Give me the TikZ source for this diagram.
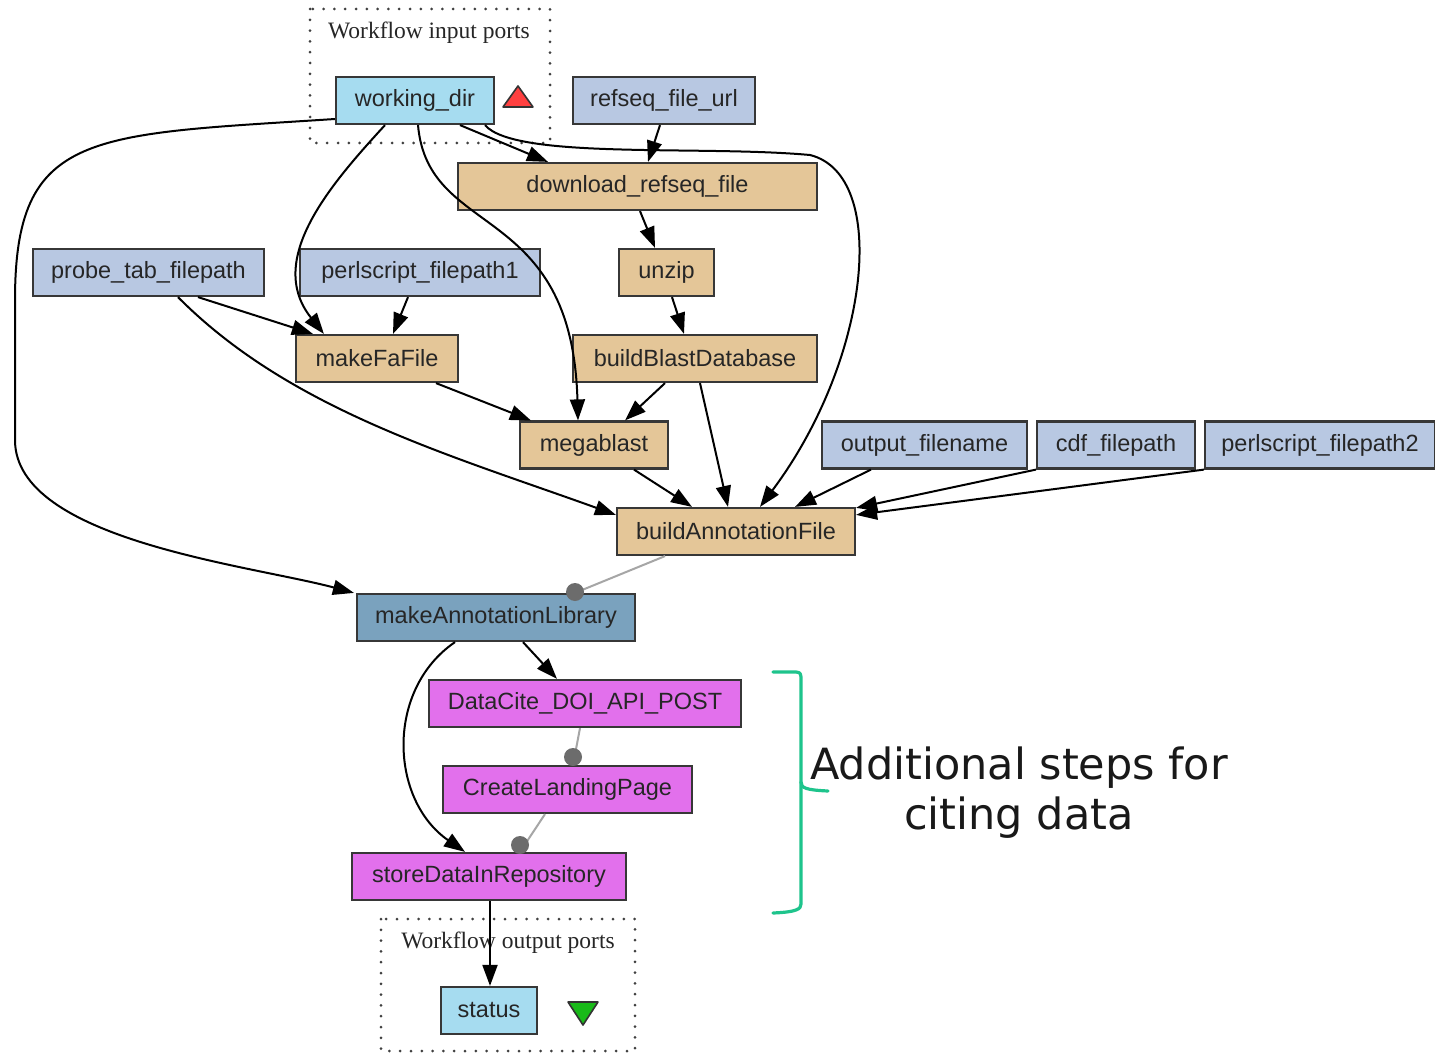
\documentclass[tikz,border=0pt]{standalone}
\usepackage{fontspec}
\setmainfont{Liberation Sans}
\newfontfamily\serifport{Liberation Serif}
\newfontfamily\notefont{DejaVu Sans}
\usetikzlibrary{arrows.meta}
\definecolor{portblue}{RGB}{184,200,226}
\definecolor{portcyan}{RGB}{166,220,240}
\definecolor{proctan}{RGB}{228,198,152}
\definecolor{libblue}{RGB}{122,162,190}
\definecolor{citepink}{RGB}{226,112,236}
\definecolor{boxedge}{RGB}{55,55,55}
\definecolor{bracketgreen}{RGB}{30,196,140}
\tikzset{
  wfbox/.style={draw=boxedge, line width=2.2pt, minimum height=47pt, inner sep=0pt,
    font=\fontsize{23.5}{26}\selectfont, text=black!85},
  inport/.style={wfbox, fill=portblue},
  topport/.style={wfbox, fill=portcyan},
  proc/.style={wfbox, fill=proctan},
  libproc/.style={wfbox, fill=libblue},
  citeproc/.style={wfbox, fill=citepink},
  flow/.style={line width=2pt, draw=black, -{Triangle[length=21pt,width=15pt]}},
  ctrl/.style={line width=2pt, draw=gray!70},
  ctrldot/.style={circle, fill=gray!85!black, minimum size=18pt, inner sep=0pt},
  portframe/.style={draw=black!75, line width=3pt, line cap=round, dash pattern=on 0pt off 10.8pt},
  portlabel/.style={font=\serifport\fontsize{23.5}{26}\selectfont, text=black!85},
}
\begin{document}
\begin{tikzpicture}[x=1pt,y=-1pt]
\useasboundingbox (0,0) rectangle (1435,1054);
\fill[white] (0,0) rectangle (1435,1054);

% port frames
\draw[portframe] (310,9) rectangle (550,143);
\node[portlabel] (inlabel) at (429,33) {Workflow input ports};
\draw[portframe] (381,919) rectangle (635,1051);
\node[portlabel] (outlabel) at (508,943) {Workflow output ports};

% nodes
\node[topport, minimum width=158pt] (wd) at (415,100.5) {working\_dir};
\node[inport, minimum width=182pt] (rsu) at (664,100.5) {refseq\_file\_url};
\node[proc, minimum width=359pt] (dl) at (637.5,186.5) {download\_refseq\_file};
\node[inport, minimum width=231pt] (ptf) at (148.5,272.5) {probe\_tab\_filepath};
\node[inport, minimum width=240pt] (ps1) at (420,272.5) {perlscript\_filepath1};
\node[proc, minimum width=95pt] (unz) at (666.5,272.5) {unzip};
\node[proc, minimum width=162pt] (mfa) at (377,358.5) {makeFaFile};
\node[proc, minimum width=244pt] (bbd) at (695,358.5) {buildBlastDatabase};
\node[proc, minimum width=148pt] (mb) at (594,445) {megablast};
\node[inport, minimum width=205pt] (ofn) at (924.5,445) {output\_filename};
\node[inport, minimum width=158pt] (cdf) at (1116,445) {cdf\_filepath};
\node[inport, minimum width=230pt] (ps2) at (1320,445) {perlscript\_filepath2};
\node[proc, minimum width=238pt] (baf) at (736,531.5) {buildAnnotationFile};
\node[libproc, minimum width=278pt] (mal) at (496,617.5) {makeAnnotationLibrary};
\node[citeproc, minimum width=312pt] (dc) at (585,703.5) {DataCite\_DOI\_API\_POST};
\node[citeproc, minimum width=249pt] (clp) at (567.5,789.5) {CreateLandingPage};
\node[citeproc, minimum width=274pt] (sdr) at (489,876.5) {storeDataInRepository};
\node[topport, minimum width=96pt] (st) at (489,1010.5) {status};

% port markers
\draw[fill=red!75!white, draw=black!80, line width=1.6pt, line join=round] (503,107) -- (533,107) -- (518,86) -- cycle;
\draw[fill=green!70!black!90!white, draw=black!80, line width=1.6pt, line join=round] (568,1002) -- (598,1002) -- (583,1025) -- cycle;

% data links
\draw[flow] (wd.west |- 0,119) .. controls (90,135) and (15,130) .. (15,300)
  -- (15,440) .. controls (15,540) and (250,565) .. ([xshift=-2pt]mal.north west);
\draw[flow] (wd.south west -| 385,0) .. controls (330,185) and (265,260) .. ([xshift=29pt]mfa.north west);
\draw[flow] (wd.south -| 418,0) .. controls (428,240) and (572,200) .. (mb.north -| 578,0);
\draw[flow] (wd.south -| 460,0) -- (dl.north -| 548,0);
\draw[flow] (wd.south -| 485,0) .. controls (515,160) and (700,145) .. (810,155)
  .. controls (890,175) and (870,360) .. (baf.north -| 760,0);
\draw[flow] (rsu.south -| 660,0) -- (dl.north -| 648,0);
\draw[flow] (dl.south -| 640,0) -- (unz.north -| 655,0);
\draw[flow] (unz.south -| 672,0) -- (bbd.north -| 684,0);
\draw[flow] (ptf.south -| 198,0) -- ([xshift=18pt]mfa.north west);
\draw[flow] (ptf.south -| 178,0) .. controls (290,410) and (450,455) .. ([yshift=-8pt]baf.north west);
\draw[flow] (ps1.south -| 408,0) -- (mfa.north -| 393,0);
\draw[flow] (mfa.south -| 436,0) -- ([xshift=12pt]mb.north west);
\draw[flow] (bbd.south -| 665,0) -- (mb.north -| 625,0);
\draw[flow] (bbd.south -| 700,0) -- (baf.north -| 728,0);
\draw[flow] (mb.south -| 634,0) -- (baf.north -| 692,0);
\draw[flow] (ofn.south -| 871,0) -- (baf.north -| 795,0);
\draw[flow] (cdf.south west) -- ([yshift=-1pt]baf.north east);
\draw[flow] (ps2.south west) -- ([yshift=-8pt]baf.north east);
\draw[flow] (mal.south -| 523,0) -- (dc.north -| 557,0);
\draw[flow] (mal.south -| 455,0) .. controls (385,690) and (390,800) .. (sdr.north -| 465,0);
\draw[flow] (sdr.south -| 490,0) -- (st.north -| 490,0);

% control links
\draw[ctrl] (baf.south -| 665,0) -- (mal.north -| 575,0);
\node[ctrldot] (d1) at (575,592) {};
\draw[ctrl] (dc.south -| 580,0) -- (clp.north -| 573,0);
\node[ctrldot] (d2) at (573,757) {};
\draw[ctrl] (clp.south -| 545,0) -- (sdr.north -| 520,0);
\node[ctrldot] (d3) at (520,845) {};

% bracket and note
\draw[bracketgreen, line width=3.2pt, line cap=round, line join=round]
  (773,672) -- (796,672) .. controls (801,672) and (801,675) .. (801,680)
  -- (801,782) .. controls (801,788) and (806,790) .. (828,791);
\draw[bracketgreen, line width=3.2pt, line cap=round, line join=round]
  (801,782) .. controls (801,792) and (801,790) .. (801,800)
  -- (801,904) .. controls (801,909) and (797,912) .. (773,913);
\node[font=\notefont\fontsize{43}{50}\selectfont, align=center, text=black!90] (note) at (1019,793)
  {Additional steps for\\citing data};
\end{tikzpicture}
\end{document}
